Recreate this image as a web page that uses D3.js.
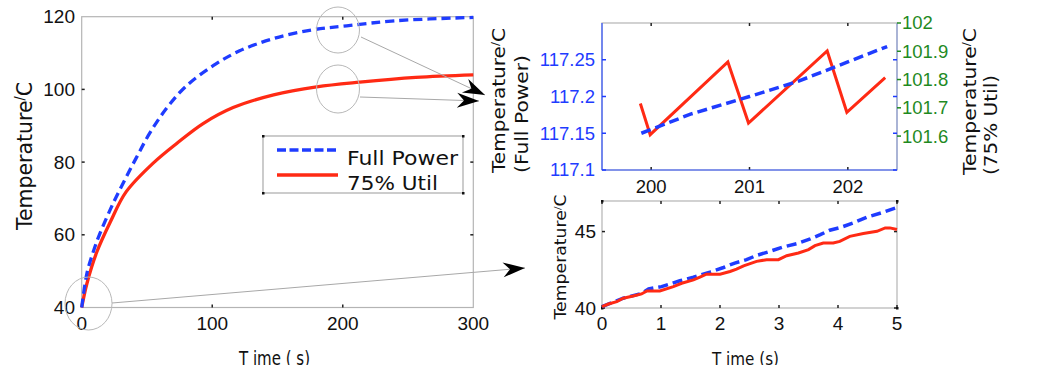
<!DOCTYPE html>
<html>
<head>
<meta charset="utf-8">
<script src="https://cdn.jsdelivr.net/npm/d3@7"></script>
<style>
  html, body { margin: 0; padding: 0; background: #fff; }
  svg { display: block; }
</style>
</head>
<body>
<svg id="chart" width="1040" height="370"></svg>
<script>
// ---- series names and colours ----
const seriesNames = ["Full Power", "75% Util"];
const BLUE = "#1f3cff", RED = "#ff2a14", GREEN = "#1f8a1f";

// ---- main plot: full 0–300 s run ----
const fullTime = [0, 4, 9, 14, 24, 33, 42, 52, 65, 80, 101, 121, 147, 177, 203, 241, 300];
const fullTemp = [40, 49.4, 55.5, 60.4, 68.6, 75.1, 81.3, 87.9, 94.8, 100.9, 106.6, 110.6, 114.0, 116.4, 117.5, 118.9, 119.8];
const utilTime = [0, 4, 11.5, 22, 34, 55, 73, 93, 116, 147, 180, 213, 256, 300];
const utilTemp = [40, 46.6, 55.2, 63.6, 71.8, 79.8, 85.2, 90.6, 95.0, 98.5, 100.7, 102.0, 103.3, 104.0];
const mainXTicks = [0, 100, 200, 300];
const mainYTicks = [40, 60, 80, 100, 120];

// ---- detail around t = 200 s (two y axes) ----
const zoomFullTime = [199.9, 200.4, 201.0, 201.5, 202.0, 202.4];
const zoomFullTemp = [117.15, 117.176, 117.2, 117.221, 117.247, 117.268];
const zoomUtilTime = [199.89, 199.99, 200.78, 200.99, 201.79, 201.99, 202.38];
const zoomUtilTemp = [101.715, 101.605, 101.862, 101.646, 101.901, 101.684, 101.807];
const zoomXTicks = [200, 201, 202];
const zoomLeftTicks = [117.1, 117.15, 117.2, 117.25];
const zoomRightTicks = [101.6, 101.7, 101.8, 101.9, 102];

// ---- detail of the first 5 s ----
const startFullTime = [0, 0.36, 0.67, 0.79, 1.01, 1.32, 1.55, 1.83, 2.06, 2.25, 2.45, 2.62, 2.85, 3.05, 3.3, 3.53, 3.7, 3.86, 4.06, 4.26, 4.49, 4.74, 4.99];
const startFullTemp = [40.09, 40.64, 40.95, 41.25, 41.4, 41.78, 42.02, 42.35, 42.65, 42.94, 43.16, 43.44, 43.71, 43.97, 44.21, 44.52, 44.8, 45.09, 45.29, 45.57, 45.94, 46.23, 46.56];
const startUtilTime = [0, 0.11, 0.25, 0.36, 0.53, 0.67, 0.76, 0.98, 1.21, 1.35, 1.55, 1.66, 1.77, 2.0, 2.17, 2.28, 2.4, 2.62, 2.79, 2.99, 3.13, 3.33, 3.5, 3.61, 3.75, 3.92, 4.03, 4.2, 4.43, 4.66, 4.8, 4.88, 5.0];
const startUtilTemp = [40.09, 40.26, 40.42, 40.64, 40.79, 40.92, 41.12, 41.12, 41.4, 41.62, 41.84, 42.02, 42.21, 42.21, 42.39, 42.54, 42.76, 43.05, 43.16, 43.16, 43.42, 43.6, 43.82, 44.08, 44.25, 44.25, 44.36, 44.69, 44.87, 45.02, 45.24, 45.24, 45.13];
const startXTicks = [0, 1, 2, 3, 4, 5];
const startYTicks = [40, 45];

const svg = d3.select("#chart");
const NUM_FONT = "'Liberation Sans', Arial, sans-serif";
const LBL_FONT = "'DejaVu Sans', Verdana, sans-serif";

// clip the bottom strip (axis titles run off the edge)
svg.append("defs").append("clipPath").attr("id", "page")
  .append("rect").attr("x", 0).attr("y", 0).attr("width", 1040).attr("height", 365);
const root = svg.append("g").attr("clip-path", "url(#page)");

const zip = (xs, ys) => xs.map((x, i) => [x, ys[i]]);

// frame with small dark tick marks on all four sides, MATLAB style
function frame(g, x, y, xt, yt, opts = {}) {
  const [x0, x1] = x.range(), [y0, y1] = y.range();
  g.append("rect").attr("x", x0).attr("y", y1).attr("width", x1 - x0).attr("height", y0 - y1)
    .attr("fill", "none").attr("stroke", opts.stroke || "#b4b4b4").attr("stroke-width", 1.2);
  const t = 3;
  xt.forEach(v => {
    g.append("line").attr("x1", x(v)).attr("x2", x(v)).attr("y1", y1).attr("y2", y1 + t).attr("stroke", "#222").attr("stroke-width", 1.5);
    g.append("line").attr("x1", x(v)).attr("x2", x(v)).attr("y1", y0).attr("y2", y0 - t).attr("stroke", "#222").attr("stroke-width", 1.5);
  });
  if (yt) yt.forEach(v => {
    g.append("line").attr("x1", x0).attr("x2", x0 + t).attr("y1", y(v)).attr("y2", y(v)).attr("stroke", "#222").attr("stroke-width", 1.5);
    g.append("line").attr("x1", x1).attr("x2", x1 - t).attr("y1", y(v)).attr("y2", y(v)).attr("stroke", "#222").attr("stroke-width", 1.5);
  });
}

function rotatedLabel(g, x, y, parts, size, len, anchor) {
  const t = g.append("text")
    .attr("transform", `translate(${x},${y}) rotate(-90)`)
    .attr("text-anchor", anchor).attr("font-family", LBL_FONT).attr("font-size", size)
    .attr("fill", "#111")
    .attr("textLength", len).attr("lengthAdjust", "spacingAndGlyphs");
  parts.forEach(p => {
    const s = t.append("tspan").text(p.text);
    if (p.small) s.attr("font-size", size * 0.6).attr("dy", -size * 0.35);
    if (p.after) s.attr("dy", size * 0.35);
  });
  return t;
}
const tempTitle = [{ text: "Temperature" }, { text: "/", small: true }, { text: "C", after: true }];

// ================= main plot =================
const mx = d3.scaleLinear().domain([0, 300]).range([81.7, 473.3]);
const my = d3.scaleLinear().domain([40, 120]).range([307.5, 16.7]);
const gMain = root.append("g");
frame(gMain, mx, my, mainXTicks.slice(1, -1), mainYTicks.slice(1, -1));

const line = (x, y, curve) => d3.line().x(d => x(d[0])).y(d => y(d[1])).curve(curve || d3.curveLinear);
const smooth = d3.curveCatmullRom.alpha(0.5);

gMain.append("path").datum(zip(utilTime, utilTemp))
  .attr("d", line(mx, my, smooth)).attr("fill", "none")
  .attr("stroke", RED).attr("stroke-width", 3.3);
gMain.append("path").datum(zip(fullTime, fullTemp))
  .attr("d", line(mx, my, smooth)).attr("fill", "none")
  .attr("stroke", BLUE).attr("stroke-width", 3.3).attr("stroke-dasharray", "9,5");

gMain.append("g").selectAll("text").data(mainYTicks).join("text")
  .attr("x", 75).attr("y", d => my(d)).attr("dy", "0.35em").attr("text-anchor", "end")
  .attr("font-family", NUM_FONT).attr("font-size", 19).attr("fill", "#111").text(d => d);
gMain.append("g").selectAll("text").data(mainXTicks).join("text")
  .attr("x", d => mx(d)).attr("y", 330).attr("text-anchor", "middle")
  .attr("font-family", NUM_FONT).attr("font-size", 19).attr("fill", "#111").text(d => d);

rotatedLabel(gMain, 32, 156, tempTitle, 22, 148, "middle");
gMain.append("text").attr("x", 239).attr("y", 365).attr("font-family", LBL_FONT).attr("font-size", 19)
  .attr("fill", "#111").attr("textLength", 71).attr("lengthAdjust", "spacingAndGlyphs").text("T ime ( s)");

// legend
const legendTextLen = [111, 91];
const leg = gMain.append("g");
leg.append("rect").attr("x", 263).attr("y", 136).attr("width", 200).attr("height", 57)
  .attr("fill", "#fff").attr("stroke", "#aaa").attr("stroke-width", 1.2);
[[263, 136], [463, 136], [263, 193], [463, 193]].forEach(([cx, cy]) =>
  leg.append("rect").attr("x", cx - 1).attr("y", cy - 1).attr("width", 2.5).attr("height", 2.5).attr("fill", "#111"));
seriesNames.forEach((name, i) => {
  const ly = 150 + i * 25;
  leg.append("line").attr("x1", 277).attr("x2", 338).attr("y1", ly).attr("y2", ly)
    .attr("stroke", i === 0 ? BLUE : RED).attr("stroke-width", 3.3)
    .attr("stroke-dasharray", i === 0 ? "9,3.5" : null);
  leg.append("text").attr("x", 347).attr("y", 165 + i * 25).attr("font-family", LBL_FONT)
    .attr("font-size", 20).attr("fill", "#111").attr("textLength", legendTextLen[i])
    .attr("lengthAdjust", "spacingAndGlyphs").text(name);
});

// magnifier circles and pointers
const ann = root.append("g");
[[338, 30, 21.5, 23], [338, 89, 21.5, 24], [88.5, 303.5, 23.5, 26.5]].forEach(([cx, cy, rx, ry]) =>
  ann.append("ellipse").attr("cx", cx).attr("cy", cy).attr("rx", rx).attr("ry", ry)
    .attr("fill", "none").attr("stroke", "#b8b8b8").attr("stroke-width", 1));
function arrow(x0, y0, x1, y1) {
  ann.append("line").attr("x1", x0).attr("y1", y0).attr("x2", x1).attr("y2", y1)
    .attr("stroke", "#a8a8a8").attr("stroke-width", 1);
  const a = Math.atan2(y1 - y0, x1 - x0) * 180 / Math.PI;
  ann.append("path").attr("d", "M0,0 L-22,-7.5 L-15,0 L-22,7.5 Z")
    .attr("transform", `translate(${x1},${y1}) rotate(${a})`).attr("fill", "#000");
}
arrow(361, 37, 485, 95);
arrow(360, 97, 479, 101);
arrow(112, 303, 525, 268);

// ================= detail at t ≈ 200 s =================
const zx = d3.scaleLinear().domain([199.5, 202.5]).range([602, 897]);
const zyL = d3.scaleLinear().domain([117.1, 117.3]).range([170, 23]);
const zyR = d3.scaleLinear().domain([101.48, 102]).range([170, 23]);
const gZoom = root.append("g");
frame(gZoom, zx, zyL, zoomXTicks, null);
gZoom.append("line").attr("x1", 602).attr("x2", 602).attr("y1", 23).attr("y2", 170).attr("stroke", "#3355ff").attr("stroke-width", 1.2);
gZoom.append("line").attr("x1", 602).attr("x2", 897).attr("y1", 170).attr("y2", 170).attr("stroke", "#3355ff").attr("stroke-width", 1.2);
gZoom.append("line").attr("x1", 897).attr("x2", 897).attr("y1", 23).attr("y2", 170).attr("stroke", "#8fa0d8").attr("stroke-width", 1.2);
zoomLeftTicks.forEach(v => {
  gZoom.append("line").attr("x1", 602).attr("x2", 606).attr("y1", zyL(v)).attr("y2", zyL(v)).attr("stroke", BLUE).attr("stroke-width", 1.5);
  gZoom.append("line").attr("x1", 897).attr("x2", 893).attr("y1", zyL(v)).attr("y2", zyL(v)).attr("stroke", BLUE).attr("stroke-width", 1.5);
});
zoomRightTicks.forEach(v =>
  gZoom.append("line").attr("x1", 897).attr("x2", 901).attr("y1", zyR(v)).attr("y2", zyR(v)).attr("stroke", GREEN).attr("stroke-width", 1.5));

gZoom.append("path").datum(zip(zoomUtilTime, zoomUtilTemp))
  .attr("d", line(zx, zyR)).attr("fill", "none").attr("stroke", RED).attr("stroke-width", 3).attr("stroke-linejoin", "miter");
gZoom.append("path").datum(zip(zoomFullTime, zoomFullTemp))
  .attr("d", line(zx, zyL)).attr("fill", "none").attr("stroke", BLUE).attr("stroke-width", 3.5).attr("stroke-dasharray", "10,5");

gZoom.append("g").selectAll("text").data(zoomLeftTicks).join("text")
  .attr("x", 595).attr("y", d => zyL(d)).attr("dy", "0.35em").attr("text-anchor", "end")
  .attr("font-family", NUM_FONT).attr("font-size", 18.5).attr("fill", BLUE).text(d => d);
gZoom.append("g").selectAll("text").data(zoomRightTicks).join("text")
  .attr("x", 902).attr("y", d => zyR(d)).attr("dy", "0.35em").attr("text-anchor", "start")
  .attr("font-family", NUM_FONT).attr("font-size", 18.5).attr("fill", GREEN).text(d => d);
gZoom.append("g").selectAll("text").data(zoomXTicks).join("text")
  .attr("x", d => zx(d)).attr("y", 193).attr("text-anchor", "middle")
  .attr("font-family", NUM_FONT).attr("font-size", 18.5).attr("fill", "#111").text(d => d);

rotatedLabel(gZoom, 505, 173, tempTitle, 17, 145, "start");
rotatedLabel(gZoom, 528, 173, [{ text: "(Full Power)" }], 17, 118, "start");
rotatedLabel(gZoom, 976, 175, tempTitle, 17, 147, "start");
rotatedLabel(gZoom, 997, 175, [{ text: "(75% Util)" }], 17, 100, "start");

// ================= detail of the first 5 s =================
const sx = d3.scaleLinear().domain([0, 5]).range([602, 897]);
const sy = d3.scaleLinear().domain([40, 47]).range([308, 201]);
const gStart = root.append("g");
frame(gStart, sx, sy, startXTicks, startYTicks);
[[602, 201], [897, 201], [602, 308], [897, 308]].forEach(([cx, cy]) =>
  gStart.append("rect").attr("x", cx - 1).attr("y", cy - 1).attr("width", 2.5).attr("height", 2.5).attr("fill", "#111"));

gStart.append("path").datum(zip(startFullTime, startFullTemp))
  .attr("d", line(sx, sy)).attr("fill", "none").attr("stroke", BLUE).attr("stroke-width", 3.5).attr("stroke-dasharray", "10,5");
gStart.append("path").datum(zip(startUtilTime, startUtilTemp))
  .attr("d", line(sx, sy)).attr("fill", "none").attr("stroke", RED).attr("stroke-width", 3);

gStart.append("g").selectAll("text").data(startYTicks).join("text")
  .attr("x", 596).attr("y", d => sy(d)).attr("dy", "0.35em").attr("text-anchor", "end")
  .attr("font-family", NUM_FONT).attr("font-size", 19).attr("fill", "#111").text(d => d);
gStart.append("g").selectAll("text").data(startXTicks).join("text")
  .attr("x", d => sx(d)).attr("y", 330).attr("text-anchor", "middle")
  .attr("font-family", NUM_FONT).attr("font-size", 19).attr("fill", "#111").text(d => d);

rotatedLabel(gStart, 566, 257, tempTitle, 15, 125, "middle");
gStart.append("text").attr("x", 712).attr("y", 365).attr("font-family", LBL_FONT).attr("font-size", 18)
  .attr("fill", "#111").attr("textLength", 67).attr("lengthAdjust", "spacingAndGlyphs").text("T ime (s)");
</script>
</body>
</html>
